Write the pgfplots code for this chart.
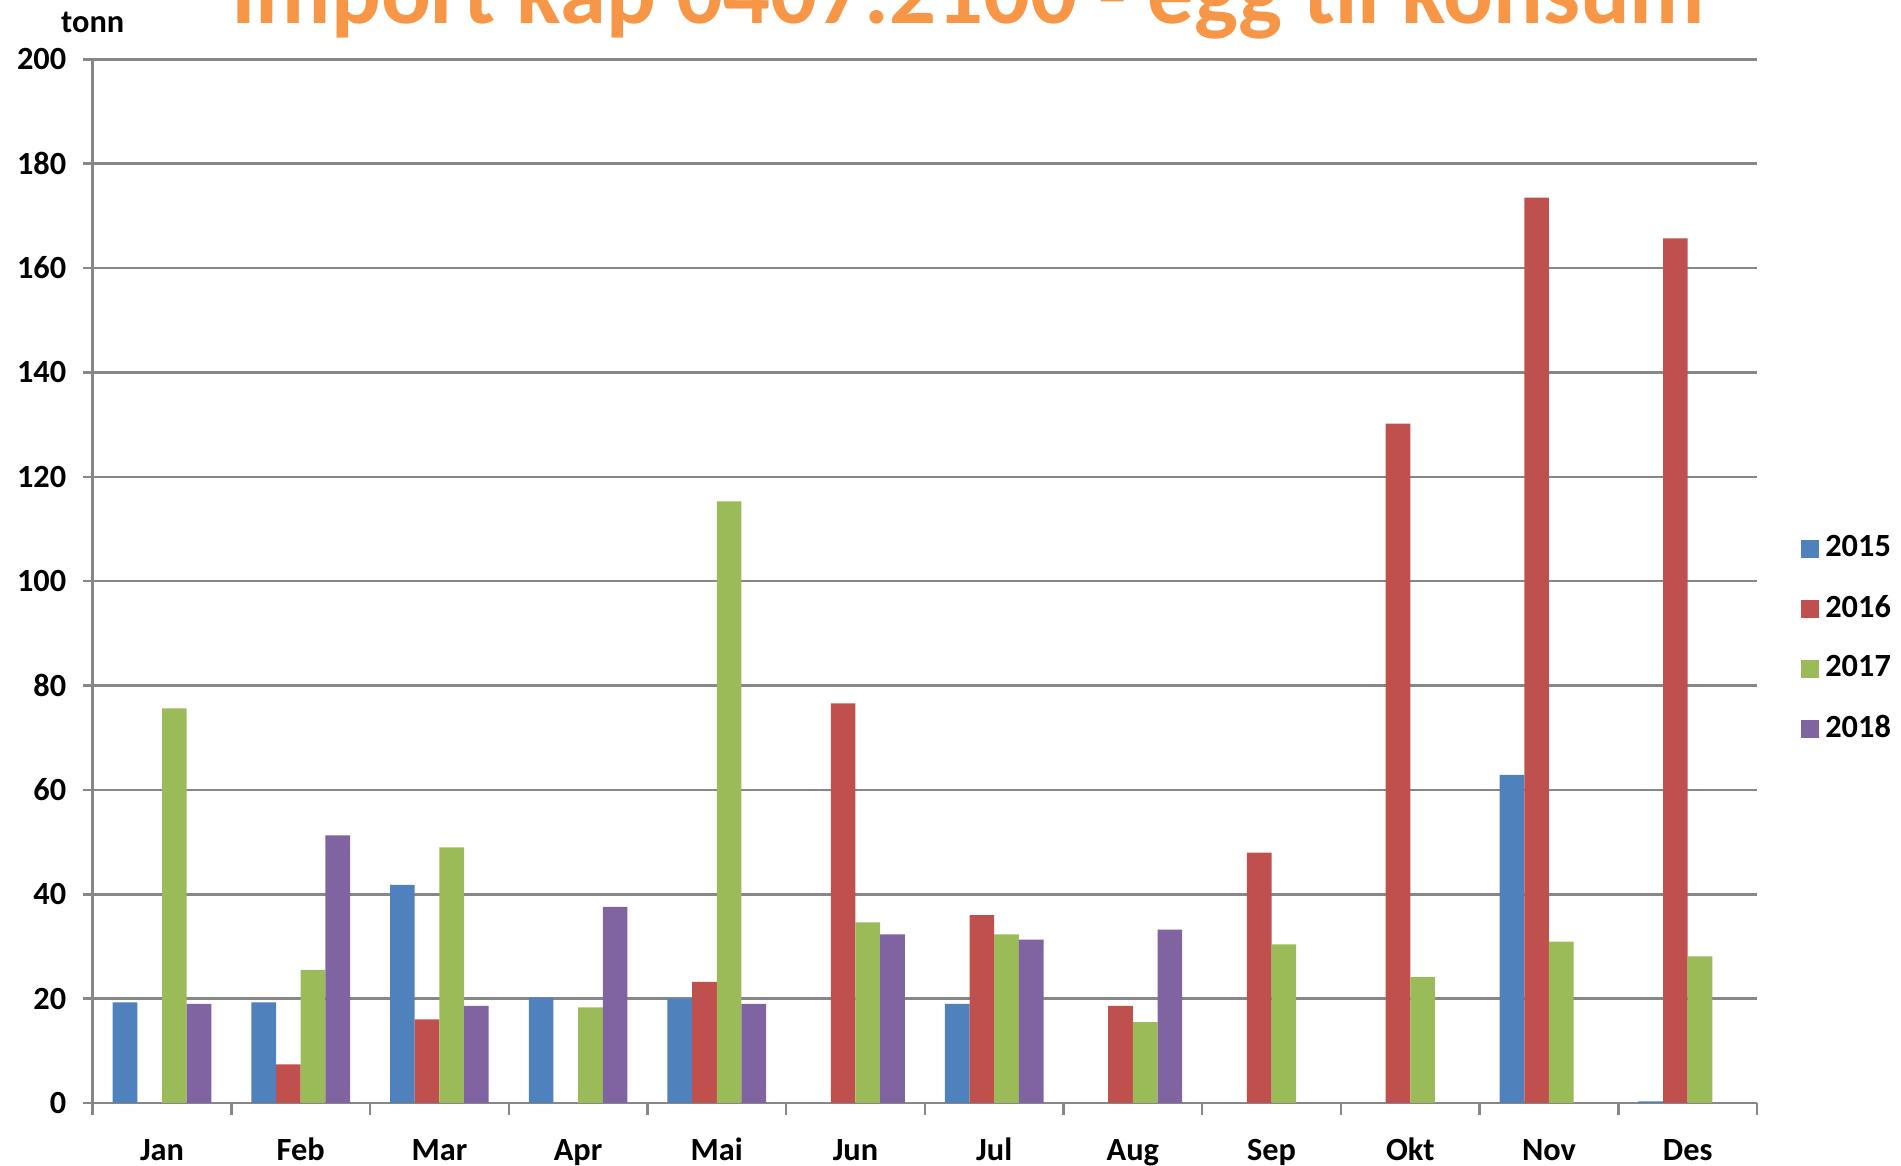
\documentclass[border=0pt]{standalone}
\usepackage{fontspec}
\setmainfont{Carlito}
\usepackage{pgfplots}
\pgfplotsset{compat=1.18}
\definecolor{c15}{HTML}{4F81BD}
\definecolor{c16}{HTML}{C0504D}
\definecolor{c17}{HTML}{9BBB59}
\definecolor{c18}{HTML}{8064A2}
\definecolor{titleorange}{HTML}{F79646}
\definecolor{gridgray}{HTML}{878787}
\newcommand{\lblfont}{\bfseries\fontsize{9.7}{11}\selectfont}
\begin{document}
\begin{tikzpicture}
\begin{axis}[
    name=ax,
    scale only axis,
    width=499.3pt, height=313.1pt,
    clip=false,
    ybar=0pt, bar width=7.4pt,
    xmin=0.5, xmax=12.5,
    ymin=0, ymax=200,
    ytick={0,20,...,200},
    xtick={1,...,12},
    xticklabels={Jan,Feb,Mar,Apr,Mai,Jun,Jul,Aug,Sep,Okt,Nov,Des},
    minor xtick={0.5,1.5,...,12.5},
    major x tick style={draw=none},
    tick align=outside,
    major tick length=3pt,
    minor tick length=3.6pt,
    tick style={gridgray, line width=0.75pt},
    axis x line*=bottom, axis y line*=left,
    axis line style={gridgray, line width=0.75pt},
    ymajorgrids,
    major grid style={gridgray, line width=0.75pt},
    /pgf/number format/assume math mode=true,
    tick label style={font=\lblfont},
    xticklabel style={anchor=base, inner sep=0pt, yshift=-14.2pt},
    yticklabel style={xshift=-1.4pt},
    every axis plot/.append style={draw=none},
    legend style={at={(rel axis cs:1,0.4447)}, anchor=west, xshift=12.9pt,
        draw=none, fill=none, inner sep=0pt, font=\lblfont, row sep=6pt},
    legend cell align=left,
    legend image code/.code={\fill[#1] (0pt,-2.7pt) rectangle (5.4pt,2.7pt);},
  ]
  \addplot[fill=c15] coordinates {(1,19.3) (2,19.3) (3,41.8) (4,20.2) (5,20.0) (7,19.0) (11,62.9) (12,0.3)};
  \addplot[fill=c16] coordinates {(2,7.4) (3,16.0) (5,23.2) (6,76.6) (7,36.0) (8,18.6) (9,48.0) (10,130.2) (11,173.5) (12,165.7)};
  \addplot[fill=c17] coordinates {(1,75.6) (2,25.5) (3,49.0) (4,18.3) (5,115.3) (6,34.6) (7,32.3) (8,15.5) (9,30.4) (10,24.1) (11,30.9) (12,28.1)};
  \addplot[fill=c18] coordinates {(1,19.0) (2,51.3) (3,18.6) (4,37.6) (5,19.0) (6,32.3) (7,31.3) (8,33.2)};
  \legend{2015,2016,2017,2018}
  \node[anchor=base, yshift=8.1pt, font=\lblfont] at (rel axis cs:0,1) {tonn};
  \node[anchor=base, yshift=10.8pt, text=titleorange, font=\bfseries\fontsize{27.8}{30}\selectfont]
    at (rel axis cs:0.526,1) {Import kap 0407.2100 - egg til konsum};
\end{axis}
\pgfresetboundingbox
\path[use as bounding box] ([xshift=-27.8pt,yshift=-18.9pt]ax.south west) rectangle ([xshift=43.2pt,yshift=17.8pt]ax.north east);
\end{tikzpicture}
\end{document}
